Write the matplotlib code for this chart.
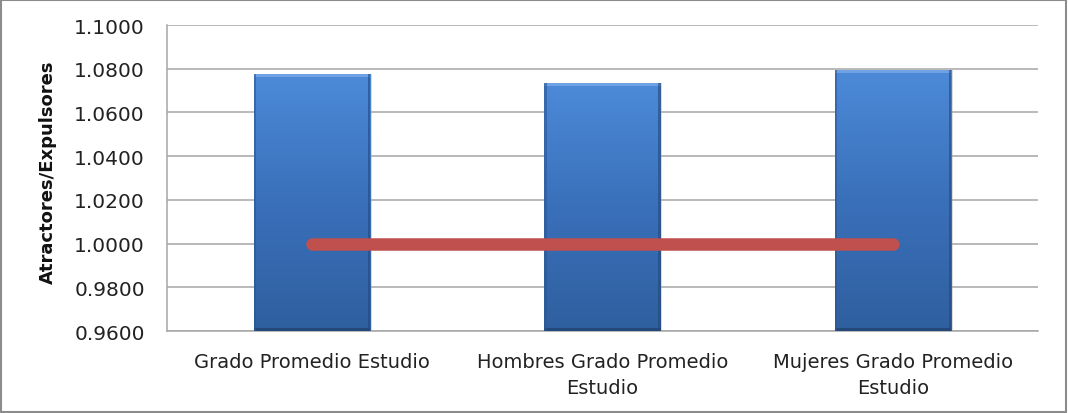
import matplotlib
matplotlib.use("Agg")
import matplotlib.pyplot as plt
import numpy as np
from matplotlib.colors import LinearSegmentedColormap
from matplotlib.patches import Rectangle

categories = ["Grado Promedio Estudio", "Hombres Grado Promedio\nEstudio", "Mujeres Grado Promedio\nEstudio"]
ratios = [1.0776, 1.0734, 1.0794]
reference = [1.0, 1.0, 1.0]
yticks = [0.96, 0.98, 1.00, 1.02, 1.04, 1.06, 1.08, 1.10]

fig = plt.figure(figsize=(10.68, 4.14), dpi=100)
fig.patch.set_facecolor("white")
ax = fig.add_axes([0.1564, 0.198, 0.8156, 0.739])

x = np.arange(len(categories))
bars = ax.bar(x, ratios, width=0.40, bottom=0, color="none", zorder=3)

# vertical blue gradient with a darker rim for each bar
blue = LinearSegmentedColormap.from_list("blue", ["#4C8AD8", "#3A70BA", "#2F5F9F"])
grad = np.linspace(0, 1, 256).reshape(-1, 1)
for b in bars:
    x0, w, h = b.get_x(), b.get_width(), b.get_height()
    y0 = 0.96
    # drop shadow
    ax.add_patch(Rectangle((x0 + 0.006, y0), w, h - y0, facecolor="#9a9a9a",
                           alpha=0.35, zorder=2, linewidth=0))
    ax.imshow(grad, cmap=blue, aspect="auto", extent=(x0, x0 + w, y0, h),
              origin="upper", zorder=3, interpolation="bilinear")
    # bevel: light top, dark bottom and sides
    ax.add_patch(Rectangle((x0, h - 0.0012), w, 0.0012, facecolor="#6FA2E4",
                           linewidth=0, zorder=4))
    ax.add_patch(Rectangle((x0, y0), w, 0.0012, facecolor="#24487A",
                           linewidth=0, zorder=4))
    ax.add_patch(Rectangle((x0, y0), 0.008, h - y0, facecolor="#2C5893",
                           alpha=0.6, linewidth=0, zorder=4))
    ax.add_patch(Rectangle((x0 + w - 0.008, y0), 0.008, h - y0, facecolor="#24487A",
                           alpha=0.6, linewidth=0, zorder=4))

ax.plot(x, reference, color="#C0504D", linewidth=9, solid_capstyle="round", zorder=5)

ax.set_xlim(-0.5, len(categories) - 0.5)
ax.set_ylim(0.96, 1.10)
ax.set_yticks(yticks)
ax.set_yticklabels([f"{v:.4f}" for v in yticks], fontsize=14.5, color="#222222")
ax.set_xticks(x)
ax.set_xticklabels(categories, fontsize=14, color="#222222", linespacing=1.45)
ax.tick_params(axis="x", length=0, pad=15)
ax.tick_params(axis="y", length=0, pad=16)
ax.yaxis.grid(True, color="#A6A6A6", linewidth=1.1, zorder=0)
ax.set_axisbelow(True)
for side in ["top", "right"]:
    ax.spines[side].set_visible(False)
for side in ["left", "bottom"]:
    ax.spines[side].set_color("#A6A6A6")
    ax.spines[side].set_linewidth(1.1)

ax.set_ylabel("Atractores/Expulsores", fontsize=13, fontweight="bold", color="#111111")
ax.yaxis.set_label_coords(-0.126, 0.523)

# outer chart border
fig.add_artist(Rectangle((0.001, 0.002), 0.997, 0.995, transform=fig.transFigure,
                         fill=False, edgecolor="#8C8C8C", linewidth=1.5))

fig.savefig("out.png", dpi=100, facecolor="white")
